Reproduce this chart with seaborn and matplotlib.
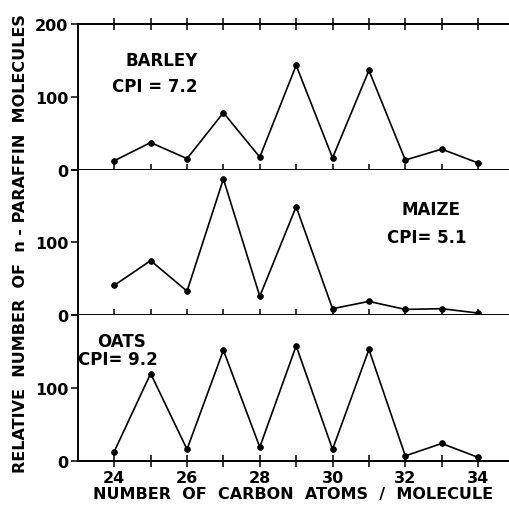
import pandas as pd
import matplotlib.pyplot as plt
import seaborn as sns

# carbon number of n-paraffins
carbon = [24, 25, 26, 27, 28, 29, 30, 31, 32, 33, 34]

# relative number of molecules
barley = [12, 37, 15, 78, 17, 143, 16, 136, 13, 28, 9]
maize = [41, 75, 33, 187, 26, 149, 9, 19, 8, 9, 3]
oats = [13, 120, 16, 152, 19, 158, 16, 153, 7, 24, 5]

crops = ["BARLEY", "MAIZE", "OATS"]
cpi = ["CPI = 7.2", "CPI= 5.1", "CPI= 9.2"]

df = pd.DataFrame({"carbon": carbon * 3,
                   "value": barley + maize + oats,
                   "crop": [c for c in crops for _ in carbon]})

sns.set_style("ticks")
plt.rcParams["font.family"] = ["DejaVu Sans"]
plt.rcParams["font.weight"] = "bold"
for k in ["text.color", "axes.labelcolor", "xtick.color", "ytick.color",
          "axes.edgecolor"]:
    plt.rcParams[k] = "black"

fig, axes = plt.subplots(3, 1, figsize=(5.09, 5.06), dpi=100, sharex=True)
fig.subplots_adjust(left=0.153, right=1.0, top=0.951, bottom=0.087, hspace=0)

# label positions in data coords
name_pos = [(25.3, 150), (32.7, 146), (24.2, 164)]
cpi_pos = [(25.1, 115), (32.6, 107), (24.1, 140)]

for i, (ax, crop) in enumerate(zip(axes, crops)):
    sns.lineplot(data=df[df["crop"] == crop], x="carbon", y="value", ax=ax,
                 color="black", lw=1.2, marker="o", markersize=4,
                 markeredgecolor="black", clip_on=False)
    ax.set_xlim(23, 34.85)
    ax.set_ylim(0, 200)
    ax.set_xticks(carbon)
    ax.set_yticks([0, 100, 200])
    if i == 0:
        ax.set_yticklabels(["0", "100", "200"])
    else:
        ax.set_yticklabels(["0", "100", ""])
    ax.tick_params(axis="x", direction="inout", length=9, width=1.1,
                   top=(i == 0), labelbottom=(i == 2), labelsize=11.5, pad=2)
    ax.tick_params(axis="y", direction="out", length=5, width=1.1,
                   labelsize=11.5, pad=2)
    ax.spines["right"].set_visible(False)
    ax.spines["top"].set_visible(i == 0)
    for s in ["left", "bottom", "top"]:
        ax.spines[s].set_linewidth(1.4)
    ax.set_xlabel("")
    ax.set_ylabel("")
    ax.text(*name_pos[i], crop, ha="center", va="center", fontsize=12,
            fontweight="bold")
    ax.text(*cpi_pos[i], cpi[i], ha="center", va="center", fontsize=12,
            fontweight="bold")

axes[2].set_xticklabels([str(c) if c % 2 == 0 else "" for c in carbon])
axes[2].set_xlabel("NUMBER  OF  CARBON  ATOMS  /  MOLECULE", fontsize=11.5,
                   fontweight="bold", labelpad=1)
fig.text(0.04, 0.518, "RELATIVE  NUMBER  OF  n - PARAFFIN  MOLECULES",
         rotation=90, ha="center", va="center", fontsize=11.5,
         fontweight="bold")

fig.savefig("out.png", dpi=100)
